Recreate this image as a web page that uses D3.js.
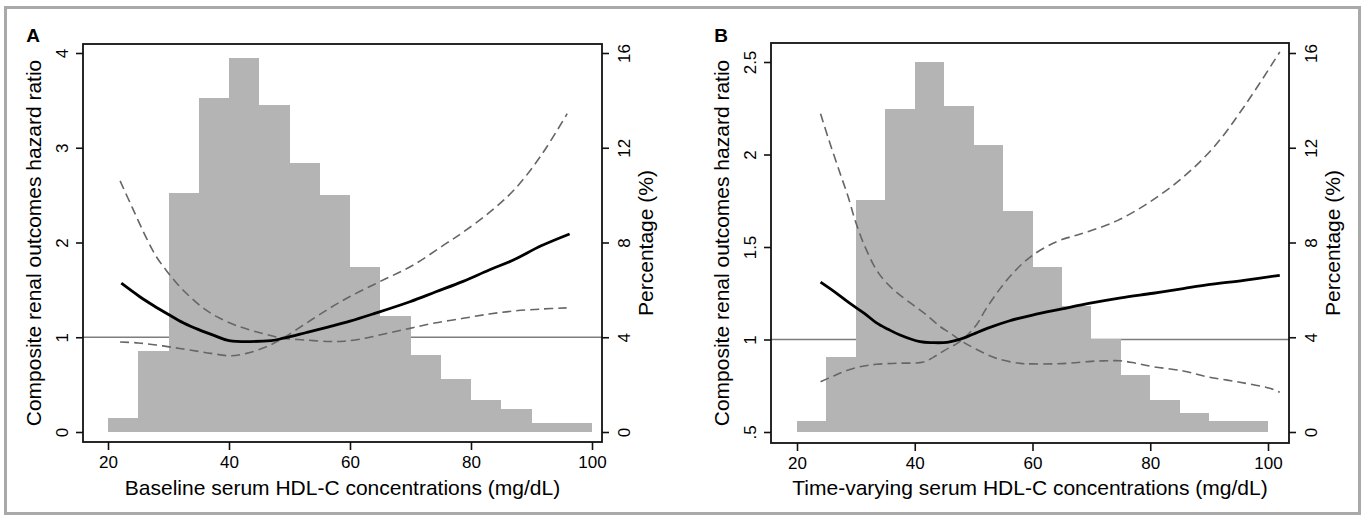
<!DOCTYPE html>
<html>
<head>
<meta charset="utf-8">
<script src="https://cdn.jsdelivr.net/npm/d3@7"></script>
<style>
  html, body { margin: 0; padding: 0; background: #fff; }
  svg { display: block; font-family: "Liberation Sans", Arial, Helvetica, sans-serif; }
</style>
</head>
<body>
<svg id="chart" width="1365" height="516"></svg>
<script>
// histogram bins (left edges, width 5 mg/dL)
const binStarts = [20, 25, 30, 35, 40, 45, 50, 55, 60, 65, 70, 75, 80, 85, 90, 95];
const binWidth = 5;

// percentage of patients per bin
const pctBaseline = [0.6, 3.4, 10.1, 14.1, 15.8, 13.8, 11.35, 10.0, 6.95, 4.9, 3.27, 2.25, 1.37, 0.98, 0.4, 0.4];
const pctTimeVarying = [0.48, 3.18, 9.8, 13.62, 15.6, 13.78, 12.1, 9.32, 6.95, 5.32, 3.92, 2.41, 1.35, 0.8, 0.48, 0.48];

// panel A : hazard ratio curve and the two confidence bands [HDL-C, HR]
const hrBaseline = [[22.2, 1.57], [25.2, 1.43], [27.5, 1.335], [30, 1.24], [32.5, 1.15], [35, 1.08], [37.5, 1.02],
    [40, 0.965], [47, 0.965], [49, 0.99], [52.8, 1.05], [56.5, 1.11], [60, 1.17], [64, 1.25], [69.9, 1.375],
    [74.2, 1.48], [78.7, 1.59], [83, 1.71], [87, 1.815], [91.6, 1.965], [96.3, 2.09]];
const ciBaselineA = [[22, 2.65], [24, 2.37], [26.4, 2.04], [28, 1.85], [29.7, 1.7], [31.5, 1.56], [33.5, 1.43],
    [35.7, 1.31], [37.9, 1.22], [41.8, 1.11], [45.6, 1.04], [48.9, 0.99], [52.8, 0.97], [56.6, 0.955], [59, 0.958],
    [62.1, 0.985], [66, 1.04], [69.9, 1.094], [74, 1.15], [78.7, 1.2], [83, 1.245], [87, 1.277], [91.5, 1.297], [95.8, 1.31]];
const ciBaselineB = [[22, 0.95], [25, 0.94], [28, 0.918], [31, 0.89], [33.5, 0.866], [37, 0.83], [40.1, 0.805],
    [42.9, 0.83], [46.2, 0.9], [48.9, 0.99], [52.8, 1.15], [56.6, 1.305], [60, 1.43], [64.9, 1.586], [70.4, 1.76],
    [75.9, 1.99], [78.5, 2.1], [82.9, 2.31], [87.2, 2.56], [91.6, 2.92], [95.9, 3.36]];

// panel B
const hrTimeVarying = [[24, 1.31], [26.5, 1.255], [29, 1.195], [31.5, 1.14], [33.5, 1.09], [35.5, 1.055], [37.5, 1.024],
    [40.9, 0.988], [43, 0.983], [45.5, 0.985], [48.5, 1.01], [50, 1.03], [52.3, 1.06], [56, 1.1], [60, 1.132],
    [65, 1.165], [69.8, 1.196], [75, 1.225], [80.5, 1.25], [85.6, 1.275], [89.6, 1.295], [95.9, 1.32], [102, 1.347]];
const ciTimeVaryingA = [[24, 2.22], [25.5, 2.07], [27.3, 1.9], [28.7, 1.77], [29.85, 1.646], [31.3, 1.52], [33.5, 1.376],
    [35.4, 1.3], [37.5, 1.24], [40, 1.18], [42, 1.132], [44.3, 1.07], [46, 1.035], [48, 0.99], [50, 0.955], [53.9, 0.898],
    [57.9, 0.871], [60, 0.868], [65.8, 0.871], [70, 0.882], [72.6, 0.885], [74.9, 0.885], [77.5, 0.872], [80.5, 0.853],
    [85.6, 0.83], [89.6, 0.799], [95, 0.77], [100.3, 0.736], [102, 0.715]];
const ciTimeVaryingB = [[24, 0.772], [26, 0.8], [27.9, 0.826], [30.7, 0.853], [33.5, 0.866], [37.5, 0.872], [41.5, 0.878],
    [43.2, 0.905], [45, 0.94], [47.7, 0.99], [50.5, 1.08], [52, 1.16], [54.5, 1.275], [57, 1.37], [60, 1.455],
    [64.1, 1.529], [67, 1.56], [70.1, 1.59], [74.5, 1.644], [79.9, 1.743], [85.6, 1.878], [90.8, 2.04], [95.9, 2.257], [102, 2.554]];

// axis ticks
const xTicks = [20, 40, 60, 80, 100];
const hrTicksBaseline = [0, 1, 2, 3, 4];
const hrTicksTimeVarying = [0.5, 1, 1.5, 2, 2.5];
const pctTicks = [0, 4, 8, 12, 16];

const yTitle = "Composite renal outcomes hazard ratio";
const pctTitle = "Percentage (%)";

const panels = [
    {
        letter: "A", xTitle: "Baseline serum HDL-C concentrations (mg/dL)",
        pct: pctBaseline, hr: hrBaseline, ci: [ciBaselineA, ciBaselineB],
        hrDomain: [0, 4], hrTicks: hrTicksBaseline,
        frame: { left: 83, right: 602, top: 44, bottom: 442 },
        xRange: [108, 592], hrRange: [432, 53]
    },
    {
        letter: "B", xTitle: "Time-varying serum HDL-C concentrations (mg/dL)",
        pct: pctTimeVarying, hr: hrTimeVarying, ci: [ciTimeVaryingA, ciTimeVaryingB],
        hrDomain: [0.5, 2.5], hrTicks: hrTicksTimeVarying,
        frame: { left: 771, right: 1289, top: 43, bottom: 443 },
        xRange: [797, 1268], hrRange: [432, 62]
    }
];

const svg = d3.select("#chart");

// outer border of the figure
svg.append("rect")
    .attr("x", 5.5).attr("y", 7.5)
    .attr("width", 1354).attr("height", 506)
    .attr("fill", "none")
    .attr("stroke", "#a9a9a9")
    .attr("stroke-width", 3);

panels.forEach(drawPanel);

//Helper Functions

function stataFormat(d) {
    let s = String(d);
    return s.startsWith("0.") ? s.slice(1) : s;
}

function rotateTickLabels(axisG, offset) {
    axisG.selectAll(".tick text")
        .attr("x", null).attr("y", null)
        .attr("dy", "0.36em")
        .attr("text-anchor", "middle")
        .attr("transform", `translate(${offset},0) rotate(-90)`);
}

function drawPanel(p) {
    const f = p.frame;
    const g = svg.append("g");

    const x = d3.scaleLinear().domain([20, 100]).range(p.xRange);
    const y = d3.scaleLinear().domain(p.hrDomain).range(p.hrRange);
    const yPct = d3.scaleLinear().domain([0, 16]).range([432, 53]);

    // reference line HR = 1 (behind the histogram)
    g.append("line")
        .attr("x1", f.left).attr("x2", f.right)
        .attr("y1", y(1)).attr("y2", y(1))
        .attr("stroke", "#7d7d7d")
        .attr("stroke-width", 1.3);

    // histogram
    g.selectAll(".bar")
        .data(binStarts.map((b, i) => ({ b, v: p.pct[i] })))
        .enter().append("rect")
        .attr("class", "bar")
        .attr("x", d => x(d.b))
        .attr("width", d => x(d.b + binWidth) - x(d.b))
        .attr("y", d => yPct(d.v))
        .attr("height", d => yPct(0) - yPct(d.v))
        .attr("fill", "#b4b4b4")
        .attr("shape-rendering", "crispEdges");

    const line = d3.line()
        .x(d => x(d[0]))
        .y(d => y(d[1]))
        .curve(d3.curveCatmullRom.alpha(0.5));

    p.ci.forEach(c => {
        g.append("path")
            .attr("d", line(c))
            .attr("fill", "none")
            .attr("stroke", "#666")
            .attr("stroke-width", 1.6)
            .attr("stroke-dasharray", "9,5");
    });

    g.append("path")
        .attr("d", line(p.hr))
        .attr("fill", "none")
        .attr("stroke", "#000")
        .attr("stroke-width", 2.8)
        .attr("stroke-linejoin", "round");

    // plot frame
    g.append("rect")
        .attr("x", f.left).attr("y", f.top)
        .attr("width", f.right - f.left).attr("height", f.bottom - f.top)
        .attr("fill", "none")
        .attr("stroke", "#111")
        .attr("stroke-width", 1.8);

    // axes
    let xAxis = g.append("g")
        .attr("transform", `translate(0,${f.bottom})`)
        .call(d3.axisBottom(x).tickValues(xTicks).tickSize(8).tickSizeOuter(0));
    xAxis.selectAll(".tick text").attr("y", 14);

    let yAxis = g.append("g")
        .attr("transform", `translate(${f.left},0)`)
        .call(d3.axisLeft(y).tickValues(p.hrTicks).tickFormat(stataFormat).tickSize(7).tickSizeOuter(0));
    rotateTickLabels(yAxis, -21);

    let pAxis = g.append("g")
        .attr("transform", `translate(${f.right},0)`)
        .call(d3.axisRight(yPct).tickValues(pctTicks).tickSize(7).tickSizeOuter(0));
    rotateTickLabels(pAxis, 22);

    g.selectAll(".domain").remove();
    g.selectAll(".tick line").attr("stroke", "#111").attr("stroke-width", 1.6);
    g.selectAll(".tick text")
        .attr("fill", "#000")
        .style("font-size", "17px")
        .style("font-family", "'Liberation Sans', Arial, sans-serif");

    // titles
    const cx = (f.left + f.right) / 2;
    const cy = (f.top + f.bottom) / 2;

    g.append("text")
        .attr("x", cx).attr("y", 495)
        .attr("text-anchor", "middle")
        .style("font-size", "21px")
        .attr("fill", "#000")
        .text(p.xTitle);

    g.append("text")
        .attr("transform", `translate(${f.left - 50},${cy}) rotate(-90)`)
        .attr("dy", "0.36em")
        .attr("text-anchor", "middle")
        .style("font-size", "21px")
        .attr("fill", "#000")
        .text(yTitle);

    g.append("text")
        .attr("transform", `translate(${f.right + 43},${cy}) rotate(-90)`)
        .attr("dy", "0.36em")
        .attr("text-anchor", "middle")
        .style("font-size", "21px")
        .attr("fill", "#000")
        .text(pctTitle);

    g.append("text")
        .attr("x", f.left - 50).attr("y", 42)
        .attr("text-anchor", "middle")
        .style("font-size", "19px")
        .style("font-weight", "bold")
        .attr("fill", "#000")
        .text(p.letter);
}
</script>
</body>
</html>
